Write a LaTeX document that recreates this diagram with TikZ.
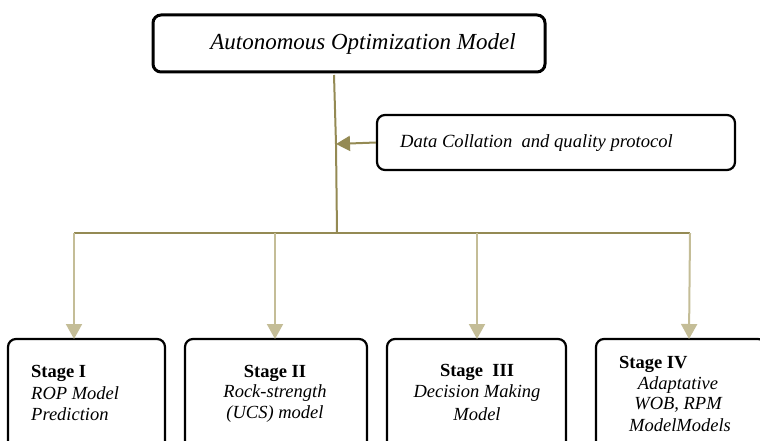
\documentclass[tikz,border=0pt]{standalone}
\usepackage{fontspec}
\setmainfont{Liberation Serif}
\usetikzlibrary{arrows.meta}
\definecolor{olive}{HTML}{948A54}
\definecolor{tan}{HTML}{C4BD97}
\begin{document}
\begin{tikzpicture}[x=1pt,y=-1pt,
  box/.style={draw=black,line width=2.2pt,rounded corners=8pt,inner sep=0pt},
  topbox/.style={box,line width=3pt},
  lbl/.style={inner sep=0pt,font=\fontsize{18.5}{22}\selectfont},
  drop/.style={draw=tan,line width=2pt,-{Triangle[width=16pt,length=15pt]}},
  feed/.style={draw=olive,line width=2pt,-{Triangle[width=15pt,length=14pt]}}]
\useasboundingbox (0,0) rectangle (760,441);
\clip (0,0) rectangle (760,441);
% top box
\node[topbox,minimum width=392pt,minimum height=57pt] (top) at (349,43.5) {};
\node[lbl,font=\fontsize{23}{27}\selectfont\itshape] (toplbl) at (363,44) {Autonomous Optimization Model};
% data box
\node[box,minimum width=358pt,minimum height=55pt] (data) at (556,142.5) {};
\node[lbl,font=\fontsize{18.6}{22}\selectfont\itshape,anchor=west] (datalbl) at (400,143) {Data Collation\ \ and quality protocol};
% trunk
\coordinate (t1) at (334,75);
\coordinate (j) at (336,144);
\coordinate (t2) at (337,233);
\draw[olive,line width=2pt] (t1) -- (j) -- (t2);
\draw[feed] (data.west) -- (j);
% bus
\coordinate (b1) at (74,233);
\coordinate (b2) at (275,233);
\coordinate (b3) at (477,233);
\coordinate (b4) at (690,233);
\draw[olive,line width=2pt] (b1) -- (b4);
% stage boxes
\node[box,minimum width=157pt,minimum height=130pt] (s1) at (86.5,404) {};
\node[box,minimum width=182pt,minimum height=130pt] (s2) at (276,404) {};
\node[box,minimum width=179pt,minimum height=130pt] (s3) at (476.5,404) {};
\node[box,minimum width=170pt,minimum height=130pt] (s4) at (681,404) {};
% drops
\draw[drop] (b1) -- (74,339);
\draw[drop] (b2) -- (275,339);
\draw[drop] (b3) -- (477,339);
\draw[drop] (b4) -- (689,339);
% labels
\node[lbl,anchor=west,font=\fontsize{18.5}{22}\selectfont\bfseries] (l1a) at (31,373) {Stage I};
\node[lbl,anchor=west,font=\fontsize{18.5}{22}\selectfont\itshape] (l1b) at (31,393.5) {ROP Model};
\node[lbl,anchor=west,font=\fontsize{18.5}{22}\selectfont\itshape] (l1c) at (31,414) {Prediction};
\node[lbl,font=\fontsize{18.5}{22}\selectfont\bfseries] (l2a) at (275,373) {Stage II};
\node[lbl,font=\fontsize{18.5}{22}\selectfont\itshape] (l2b) at (275,393.5) {Rock-strength};
\node[lbl,font=\fontsize{18.5}{22}\selectfont\itshape] (l2c) at (275,414) {(UCS) model};
\node[lbl,font=\fontsize{18.5}{22}\selectfont\bfseries] (l3a) at (477,372) {Stage\ \ III};
\node[lbl,font=\fontsize{18.5}{22}\selectfont\itshape] (l3b) at (477,393) {Decision Making};
\node[lbl,font=\fontsize{18.5}{22}\selectfont\itshape] (l3c) at (477,414) {Model};
\node[lbl,anchor=west,font=\fontsize{18.5}{22}\selectfont\bfseries] (l4a) at (619,364) {Stage IV};
\node[lbl,font=\fontsize{18.5}{22}\selectfont\itshape] (l4b) at (678,385) {Adaptative};
\node[lbl,font=\fontsize{18.5}{22}\selectfont\itshape] (l4c) at (678,405) {WOB, RPM};
\node[lbl,font=\fontsize{18.5}{22}\selectfont\itshape] (l4d) at (680,425) {ModelModels};
\end{tikzpicture}
\end{document}
